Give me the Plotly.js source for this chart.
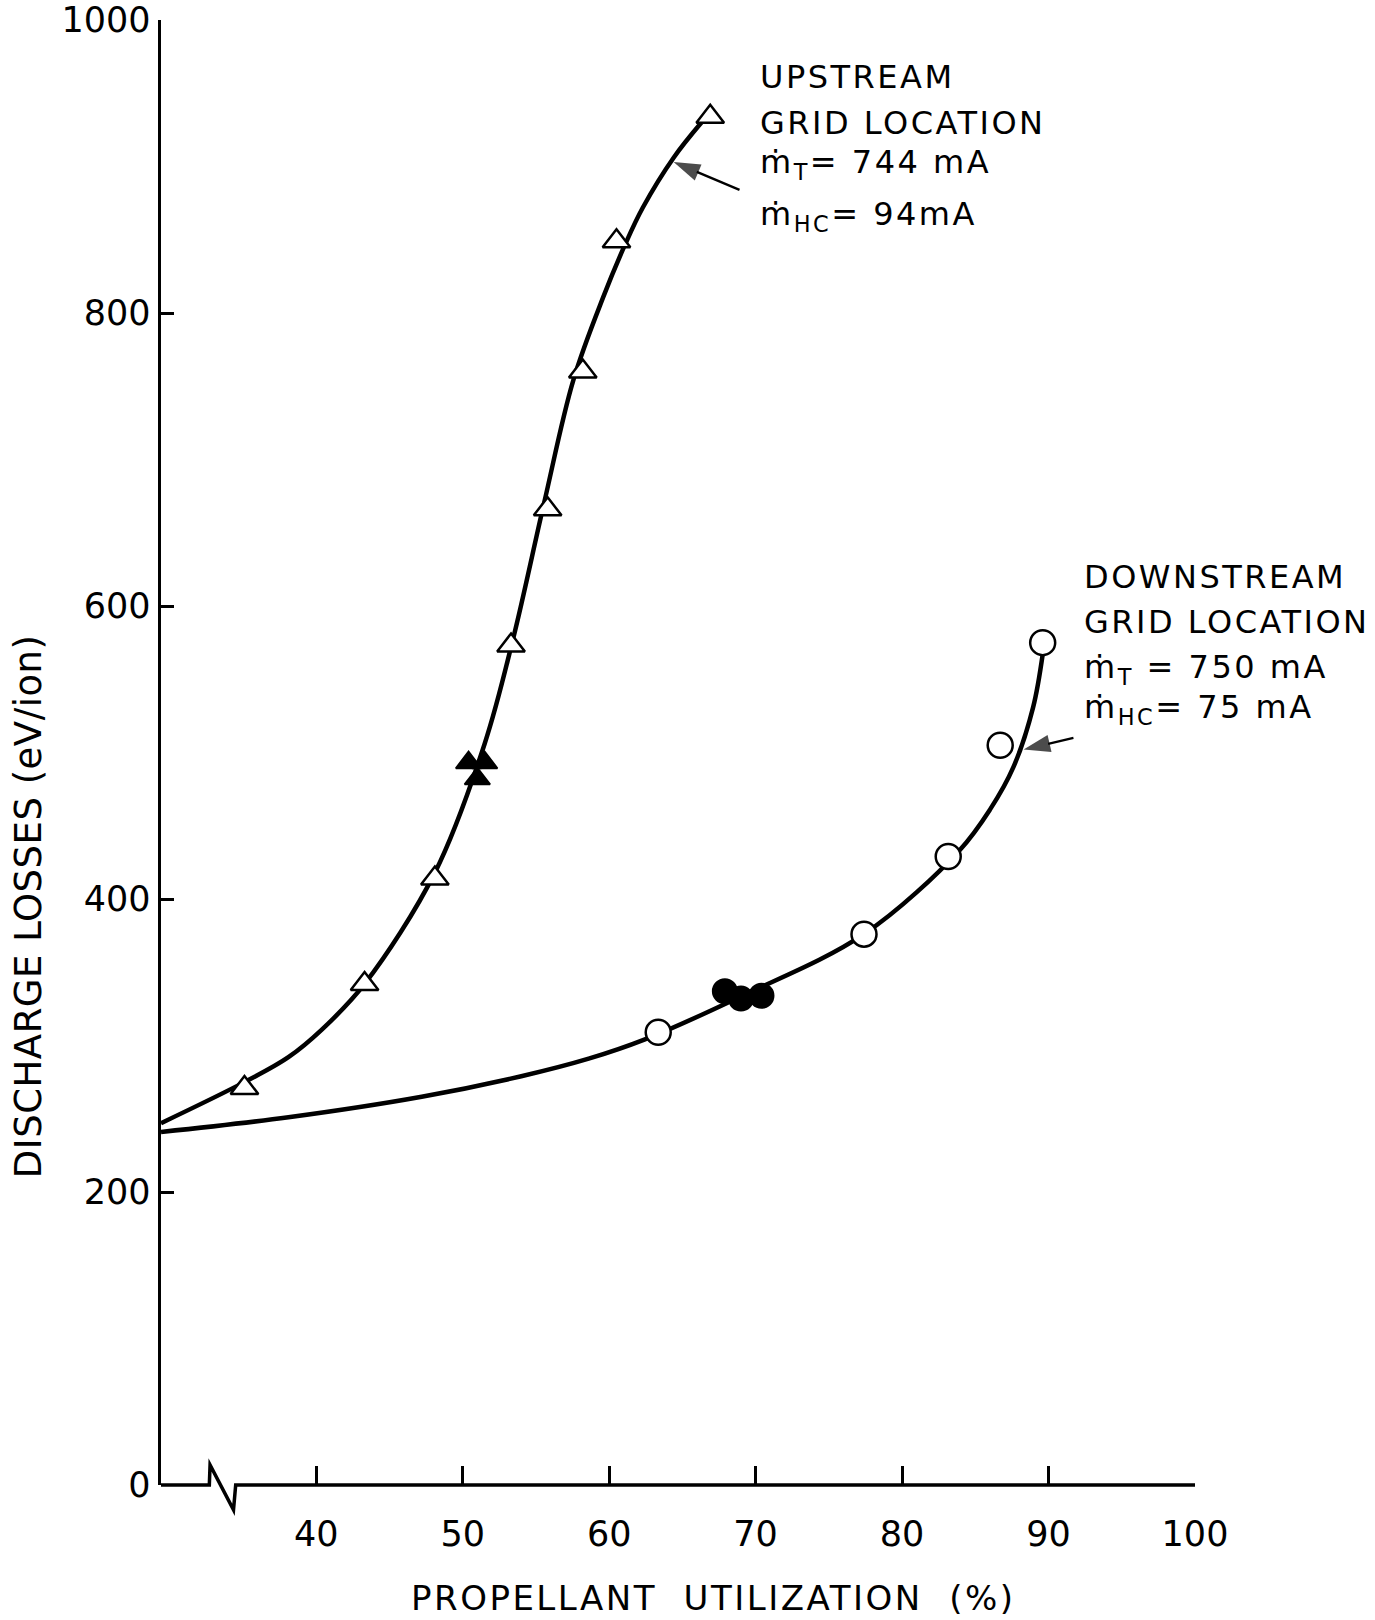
<!DOCTYPE html>
<html>
<head>
<meta charset="utf-8">
<script src="https://cdn.plot.ly/plotly-3.0.1.min.js"></script>
<style>
html,body{margin:0;padding:0;background:#fff;}
#chart{width:1375px;height:1620px;}
#chart .annotation-text{letter-spacing:2.5px;}
#chart .annotation[data-index="8"] .annotation-text{letter-spacing:0.5px;}
</style>
</head>
<body>
<div id="chart"></div>
<script>
// ---- data ----
const xTicks = [40, 50, 60, 70, 80, 90, 100];
const yTicks = [0, 200, 400, 600, 800, 1000];

// upstream grid location (open triangles)
const upX = [35.1, 43.3, 48.1, 53.3, 55.8, 58.2, 60.5, 66.9];
const upY = [271, 342, 414, 573, 666, 760, 849, 934];
// upstream filled triangles
const upFilledX = [50.4, 51.5, 51.0];
const upFilledY = [493, 493, 482];
// upstream faired curve
const upCurveX = [29.4, 35.1, 38.1, 40.4, 43.3, 48.1, 51.5, 53.45, 55.55, 57.55, 59.6, 61.1, 62.3, 64.4, 66.3];
const upCurveY = [247, 275, 292, 311, 342, 418, 506, 578, 670, 754, 811, 847, 872, 906, 930];

// downstream grid location (open circles)
const downX = [63.35, 77.4, 83.15, 86.7, 89.6];
const downY = [309, 376, 429, 505, 575];
// downstream filled circles
const downFilledX = [67.9, 69.0, 70.4];
const downFilledY = [337, 332, 334];
// downstream faired curve
const downCurveX = [29.4, 38.1, 47.2, 54.0, 58.6, 62.4, 69.1, 77.4, 83.9, 86.0, 87.6, 88.95, 89.6];
const downCurveY = [241, 251, 265, 279, 291, 304, 334, 376, 433, 461, 490, 531, 567];

// leader arrows (tail, head)
const upArrowX = [68.9, 64.4];
const upArrowY = [884, 903];
const downArrowX = [91.7, 88.3];
const downArrowY = [510, 502];

const upLabel = ["UPSTREAM", "GRID LOCATION", "ṁ<sub>T</sub>= 744 mA", "ṁ<sub>HC</sub>= 94mA"];
const downLabel = ["DOWNSTREAM", "GRID LOCATION", "ṁ<sub>T</sub> = 750 mA", "ṁ<sub>HC</sub>= 75 mA"];
const xTitle = "PROPELLANT\u00a0\u00a0UTILIZATION\u00a0\u00a0(%)";
const yTitle = "DISCHARGE LOSSES (eV/ion)";

// ---- styling ----
const FONT = "DejaVu Sans, Liberation Sans, sans-serif";
const X0 = 29.4, X1 = 100;

function arrowTrace(xs, ys) {
  return {x: xs, y: ys, mode: "lines+markers", hoverinfo: "skip",
    line: {color: "#000", width: 2.4},
    marker: {symbol: ["circle", "arrow"], size: [0, 28], angleref: "previous", color: "#000", line: {width: 0}}};
}

const traces = [
  {x: upCurveX, y: upCurveY, mode: "lines", line: {color: "#000", width: 4.5, shape: "spline", smoothing: 1}, hoverinfo: "skip"},
  {x: downCurveX, y: downCurveY, mode: "lines", line: {color: "#000", width: 4.5, shape: "spline", smoothing: 1}, hoverinfo: "skip"},
  arrowTrace(upArrowX, upArrowY),
  arrowTrace(downArrowX, downArrowY),
  {x: upX, y: upY, mode: "markers", marker: {symbol: "triangle-up", size: 24, color: "#fff", line: {color: "#000", width: 2.5}}},
  {x: upFilledX, y: upFilledY, mode: "markers", marker: {symbol: "triangle-up", size: 22, color: "#000", line: {color: "#000", width: 2}}},
  {x: downX, y: downY, mode: "markers", marker: {symbol: "circle", size: 25, color: "#fff", line: {color: "#000", width: 2.5}}},
  {x: downFilledX, y: downFilledY, mode: "markers", marker: {symbol: "circle", size: 24, color: "#000", line: {color: "#000", width: 2}}}
];

// label lines (vertical positions in data units)
const upLabelY = [961, 930, 902, 866];
const downLabelY = [620, 589, 557, 530];
const annotations = [];
upLabel.forEach((t, i) => annotations.push({x: 70.17, y: upLabelY[i], xref: "x", yref: "y", text: t, showarrow: false, xanchor: "left", yanchor: "middle", align: "left", font: {family: FONT, size: 32, color: "#000"}}));
downLabel.forEach((t, i) => annotations.push({x: 92.26, y: downLabelY[i], xref: "x", yref: "y", text: t, showarrow: false, xanchor: "left", yanchor: "middle", align: "left", font: {family: FONT, size: 32, color: "#000"}}));
// axis titles
annotations.push({x: -0.128, y: 0.395, xref: "paper", yref: "paper", text: yTitle, textangle: -90, showarrow: false, xanchor: "center", yanchor: "middle", font: {family: FONT, size: 37, color: "#000"}});
annotations.push({x: 0.534, y: -0.0774, xref: "paper", yref: "paper", text: xTitle, showarrow: false, xanchor: "center", yanchor: "middle", font: {family: FONT, size: 34, color: "#000"}});

// broken x-axis line (x in data units, y in paper units)
const shapes = [{
  type: "path", xref: "x", yref: "paper",
  path: "M " + X0 + ",0 L 32.7,0 L 32.75,0.0137 L 34.35,-0.017 L 34.5,0 L " + X1 + ",0",
  line: {color: "#000", width: 3.5}, layer: "above"
}];

const layout = {
  width: 1375, height: 1620,
  margin: {l: 161, r: 180, t: 20, b: 135, pad: 0},
  paper_bgcolor: "#fff", plot_bgcolor: "#fff",
  showlegend: false,
  font: {family: FONT, color: "#000"},
  xaxis: {
    range: [X0, X1], tickvals: xTicks, ticktext: xTicks.map(String),
    ticks: "inside", ticklen: 19, tickwidth: 3, tickcolor: "#000",
    showline: false, showgrid: false, zeroline: false,
    tickfont: {family: FONT, size: 35, color: "#000"}, ticklabelstandoff: 25
  },
  yaxis: {
    range: [0, 1000], tickvals: yTicks, ticktext: yTicks.map(String),
    ticks: "inside", ticklen: 13, tickwidth: 3, tickcolor: "#000",
    showline: true, linecolor: "#000", linewidth: 3.5,
    showgrid: false, zeroline: false,
    tickfont: {family: FONT, size: 35, color: "#000"}
  },
  annotations: annotations,
  shapes: shapes
};

Plotly.newPlot("chart", traces, layout, {staticPlot: true, displayModeBar: false});
</script>
</body>
</html>
